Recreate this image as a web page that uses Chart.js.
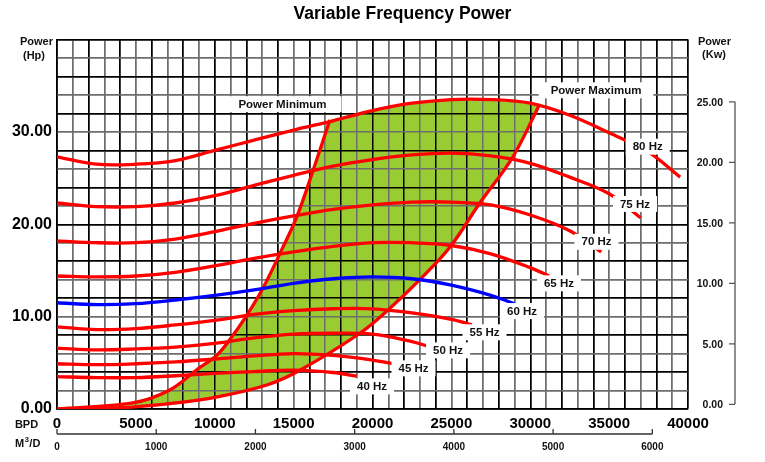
<!DOCTYPE html>
<html lang="en">
<head>
<meta charset="UTF-8">
<title>Variable Frequency Power</title>
<script src="https://cdn.jsdelivr.net/npm/chart.js"></script>
<style>
  html, body { margin: 0; background: #fff; }
</style>
</head>
<body>
<canvas id="vfp" width="765" height="462"></canvas>
<script>
// flow in BPD, power in Hp
const flow80 = [0, 2500, 5000, 7500, 10000, 12500, 15000, 17500, 20000, 22500, 25000, 27500, 30000, 32500, 35000, 37500, 39500];
const hp80   = [27.3, 26.5, 26.5, 26.9, 28.0, 29.1, 30.2, 31.2, 32.3, 33.1, 33.5, 33.5, 33.1, 31.8, 29.9, 27.8, 25.1];
const flow75 = [0, 2500, 5000, 7500, 10000, 12500, 15000, 17500, 20000, 22500, 25000, 27500, 30000, 32500, 35000, 37000];
const hp75   = [22.3, 21.9, 21.9, 22.3, 23.1, 24.2, 25.3, 26.3, 27.0, 27.5, 27.7, 27.4, 26.6, 25.1, 23.3, 20.7];
const flow70 = [0, 2500, 5000, 7500, 10000, 12500, 15000, 17500, 20000, 22500, 25000, 27500, 30000, 32500, 34500];
const hp70   = [18.2, 18.0, 18.0, 18.4, 19.2, 20.1, 20.9, 21.6, 22.1, 22.4, 22.4, 22.1, 21.0, 19.3, 17.0];
const flow65 = [0, 2500, 5000, 7500, 10000, 12500, 15000, 17500, 20000, 22500, 25000, 27500, 30000, 31200];
const hp65   = [14.4, 14.3, 14.4, 14.8, 15.5, 16.3, 17.0, 17.6, 18.0, 18.0, 17.7, 16.8, 15.3, 14.4];
const flow60 = [0, 2500, 5000, 7500, 10000, 12500, 15000, 17500, 20000, 22500, 25000, 27500, 29000];
const hp60   = [11.5, 11.3, 11.4, 11.8, 12.3, 12.9, 13.6, 14.1, 14.3, 14.1, 13.4, 12.3, 11.4];
const flow55 = [0, 2500, 5000, 7500, 10000, 12500, 15000, 17500, 20000, 22500, 25000, 26300];
const hp55   = [8.9, 8.6, 8.7, 9.1, 9.6, 10.25, 10.65, 10.85, 10.85, 10.4, 9.7, 9.1];
const flow50 = [0, 2500, 5000, 7500, 10000, 12500, 15000, 17500, 20000, 22500, 23500];
const hp50   = [6.6, 6.4, 6.5, 6.7, 7.1, 7.7, 8.1, 8.2, 8.1, 7.3, 6.8];
const flow45 = [0, 2500, 5000, 7500, 10000, 12500, 15000, 17500, 20000, 21300];
const hp45   = [4.9, 4.8, 4.9, 5.1, 5.4, 5.75, 6.0, 5.8, 5.3, 4.9];
const flow40 = [0, 2500, 5000, 7500, 10000, 12500, 15000, 17500, 19000];
const hp40   = [3.5, 3.4, 3.4, 3.6, 3.85, 4.05, 4.2, 3.95, 3.55];

// power minimum / maximum boundaries of the operating window
const minFlow = [0, 4800, 7150, 8900, 10150, 10950, 12050, 13000, 14150, 15200, 16250, 17300];
const minHp   = [0, 0.65, 2.05, 4.3, 5.85, 7.5, 10.2, 12.9, 16.9, 20.8, 25.9, 31.3];
const maxFlow = [0, 3800, 8000, 10150, 13300, 15400, 19200, 21100, 23000, 24900, 26800, 28900, 30600];
const maxHp   = [0, 0.1, 0.75, 1.3, 2.6, 4.2, 8.2, 10.9, 14.0, 17.5, 22.3, 27.3, 33.0];

// axis labels
const hpLabels  = [0, 10, 20, 30];
const bpdLabels = [0, 5000, 10000, 15000, 20000, 25000, 30000, 35000, 40000];
const kwTicks   = [0, 5, 10, 15, 20, 25];
const m3Ticks   = [0, 1000, 2000, 3000, 4000, 5000, 6000];
const BBL_PER_M3 = 6.2898;

const FONT = '"Liberation Sans", Arial, Helvetica, sans-serif';
const RED = '#ff0000';
const BLUE = '#0000ff';

function pts(xs, ys) {
    return xs.map((x, i) => ({ x: x, y: ys[i] }));
}

// green window: up the minimum line, along 80 Hz, back down the maximum line
const topFrom = minFlow[minFlow.length - 1] + 500;
const topTo = maxFlow[maxFlow.length - 1] - 500;
const zone = pts(minFlow, minHp)
    .concat(pts(flow80, hp80).filter(p => p.x > topFrom && p.x < topTo))
    .concat(pts(maxFlow, maxHp).reverse());

const curves = [
    { flow: flow80, hp: hp80, color: RED },
    { flow: flow75, hp: hp75, color: RED },
    { flow: flow70, hp: hp70, color: RED },
    { flow: flow65, hp: hp65, color: RED },
    { flow: flow60, hp: hp60, color: BLUE },
    { flow: flow55, hp: hp55, color: RED },
    { flow: flow50, hp: hp50, color: RED },
    { flow: flow45, hp: hp45, color: RED },
    { flow: flow40, hp: hp40, color: RED },
    { flow: minFlow, hp: minHp, color: RED },
    { flow: maxFlow, hp: maxHp, color: RED }
];

// where the boxed captions sit (BPD, Hp)
const labelSpots = [
    { text: 'Power Minimum', x: 14295, y: 33.0, padX: 15 },
    { text: 'Power Maximum', x: 34170, y: 34.5, padX: 12 },
    { text: '80 Hz', x: 37445, y: 28.4, padX: 7 },
    { text: '75 Hz', x: 36640, y: 22.2, padX: 7 },
    { text: '70 Hz', x: 34200, y: 18.1, padX: 7 },
    { text: '65 Hz', x: 31820, y: 13.6, padX: 7 },
    { text: '60 Hz', x: 29480, y: 10.6, padX: 7 },
    { text: '55 Hz', x: 27100, y: 8.3, padX: 7 },
    { text: '50 Hz', x: 24790, y: 6.35, padX: 7 },
    { text: '45 Hz', x: 22600, y: 4.4, padX: 7 },
    { text: '40 Hz', x: 19970, y: 2.45, padX: 7 }
];

const datasets = [{
    data: zone,
    showLine: true,
    borderWidth: 0,
    pointRadius: 0,
    tension: 0,
    fill: 'shape',
    backgroundColor: '#99cc33',
    order: 10
}];
curves.forEach(c => {
    datasets.push({
        data: pts(c.flow, c.hp),
        showLine: true,
        borderColor: c.color,
        borderWidth: 3.3,
        pointRadius: 0,
        tension: 0.35,
        fill: false,
        order: 1
    });
});

const gridColor = c => (c.index % 2 === 0 ? '#000' : '#6e6e6e');

const decor = {
    id: 'decor',
    afterDatasetDraw(chart, args) {
        // grid has to show through the green window
        if (args.index !== 0) return;
        chart.scales.x.drawGrid(chart.chartArea);
        chart.scales.y.drawGrid(chart.chartArea);
    },
    afterDatasetsDraw(chart) {
        const ctx = chart.ctx;
        const xs = chart.scales.x, ys = chart.scales.y;
        ctx.save();
        ctx.font = 'bold 11.5px ' + FONT;
        ctx.textAlign = 'center';
        ctx.textBaseline = 'middle';
        labelSpots.forEach(s => {
            const px = xs.getPixelForValue(s.x);
            const py = ys.getPixelForValue(s.y);
            const w = ctx.measureText(s.text).width;
            ctx.fillStyle = '#fff';
            ctx.fillRect(px - w / 2 - s.padX, py - 8, w + 2 * s.padX, 16);
            ctx.fillStyle = '#111';
            ctx.fillText(s.text, px, py + 0.5);
        });
        ctx.restore();
    },
    afterDraw(chart) {
        const ctx = chart.ctx;
        const kw = chart.scales.kw, m3 = chart.scales.m3;
        ctx.save();

        // kW bracket on the right
        const bx = 735;
        ctx.strokeStyle = '#555';
        ctx.lineWidth = 1.3;
        ctx.beginPath();
        ctx.moveTo(bx, kw.getPixelForValue(kwTicks[0]));
        ctx.lineTo(bx, kw.getPixelForValue(kwTicks[kwTicks.length - 1]));
        kwTicks.forEach(v => {
            const py = kw.getPixelForValue(v);
            ctx.moveTo(bx - 6, py);
            ctx.lineTo(bx, py);
        });
        ctx.stroke();
        ctx.fillStyle = '#111';
        ctx.font = 'bold 10.5px ' + FONT;
        ctx.textAlign = 'right';
        ctx.textBaseline = 'middle';
        kwTicks.forEach(v => {
            ctx.fillText(v.toFixed(2), 723, kw.getPixelForValue(v) + 1);
        });

        // M3/D scale under the BPD axis
        const ly = 434;
        ctx.beginPath();
        ctx.strokeStyle = '#333';
        ctx.moveTo(m3.getPixelForValue(m3Ticks[0]), ly);
        ctx.lineTo(m3.getPixelForValue(m3Ticks[m3Ticks.length - 1]), ly);
        m3Ticks.forEach(v => {
            const px = m3.getPixelForValue(v);
            ctx.moveTo(px, ly);
            ctx.lineTo(px, ly - 5);
        });
        ctx.stroke();
        ctx.font = 'bold 10px ' + FONT;
        ctx.textAlign = 'center';
        m3Ticks.forEach(v => {
            ctx.fillText(String(v), m3.getPixelForValue(v), 447.5);
        });

        // title and axis captions
        ctx.fillStyle = '#000';
        ctx.font = 'bold 17.5px ' + FONT;
        ctx.fillText('Variable Frequency Power', 402.5, 14.5);

        ctx.fillStyle = '#111';
        ctx.font = 'bold 11px ' + FONT;
        ctx.fillText('Power', 36.5, 42);
        ctx.fillText('(Hp)', 34, 56);
        ctx.fillText('Power', 714.5, 41.5);
        ctx.fillText('(Kw)', 714, 55);
        ctx.fillText('BPD', 26.5, 425);

        ctx.textAlign = 'left';
        ctx.fillText('M', 15, 444);
        let mx = 15 + ctx.measureText('M').width;
        ctx.font = 'bold 7.5px ' + FONT;
        ctx.fillText('3', mx + 0.5, 439.5);
        mx += ctx.measureText('3').width + 1;
        ctx.font = 'bold 11px ' + FONT;
        ctx.fillText('/D', mx, 444);

        ctx.restore();
    }
};

new Chart(document.getElementById('vfp'), {
    type: 'scatter',
    data: { datasets: datasets },
    options: {
        responsive: false,
        animation: false,
        devicePixelRatio: 1,
        layout: { padding: { left: 0, right: 77, top: 39.5, bottom: 27 } },
        plugins: {
            legend: { display: false },
            tooltip: { enabled: false }
        },
        scales: {
            x: {
                type: 'linear',
                min: 0,
                max: 40000,
                ticks: {
                    stepSize: 1000,
                    autoSkip: false,
                    maxRotation: 0,
                    padding: 6,
                    color: '#000',
                    font: { family: FONT, size: 15, weight: 'bold' },
                    callback: v => (bpdLabels.includes(v) ? String(v) : '')
                },
                grid: { color: gridColor, lineWidth: 1.5, drawTicks: false },
                border: { color: '#000', width: 1.5 },
                afterFit: s => { s.height = 26; }
            },
            y: {
                type: 'linear',
                min: 0,
                max: 40,
                ticks: {
                    stepSize: 2,
                    autoSkip: false,
                    padding: 5,
                    color: '#000',
                    font: { family: FONT, size: 16, weight: 'bold' },
                    callback: v => (hpLabels.includes(v) ? v.toFixed(2) : '')
                },
                grid: { color: gridColor, lineWidth: 1.5, drawTicks: false },
                border: { color: '#000', width: 1.5 },
                afterFit: s => { s.width = 57; }
            },
            kw: { type: 'linear', axis: 'y', position: 'right', display: false, min: -0.39, max: 30.15 },
            m3: { type: 'linear', axis: 'x', position: 'bottom', display: false, min: 0, max: 40000 / BBL_PER_M3 }
        }
    },
    plugins: [decor]
});
</script>
</body>
</html>
